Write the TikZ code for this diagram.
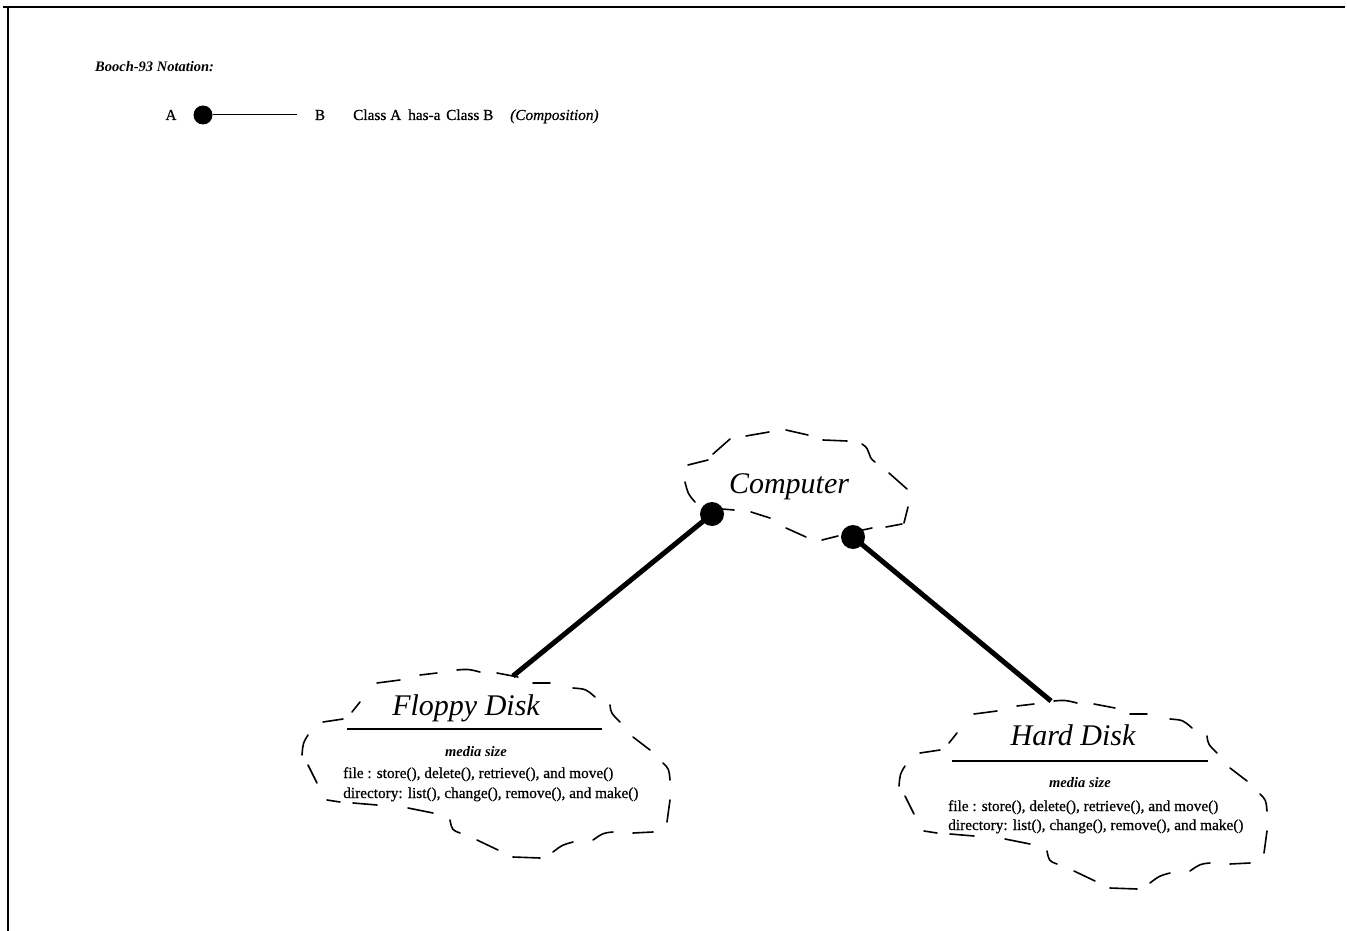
\documentclass[tikz,border=0pt]{standalone}
\usepackage{fontspec}
\setmainfont{Liberation Serif}
\newfontfamily\inkfont{Liberation Serif}[FakeBold=0.6]
\begin{document}
\begin{tikzpicture}[x=1pt,y=-1pt,
  frame/.style={line width=2pt},
  cloudline/.style={line width=1.6pt, line cap=round},
  hasa/.style={line width=5pt},
  bigdot/.style={circle, fill=black, inner sep=0pt, minimum size=24pt},
  smalldot/.style={circle, fill=black, inner sep=0pt, minimum size=19pt},
  classname/.style={font=\fontsize{30}{36}\selectfont\itshape, anchor=base, inner sep=0pt},
  attrib/.style={font=\fontsize{14.5}{17}\selectfont\bfseries\itshape, anchor=base, inner sep=0pt},
  opline/.style={font=\inkfont\fontsize{15.3}{19}\selectfont, anchor=base west, inner sep=0pt},
  legendtxt/.style={font=\inkfont\fontsize{15.3}{17}\selectfont, anchor=base west, inner sep=0pt},
  divider/.style={line width=1.5pt},
  diskcloud/.pic={
    \draw[cloudline]
      (308,735) .. controls (303,743) .. (302,755)
      (323,722) -- (343,719)
      (352,712) -- (360,702)
      (377,683) -- (400,680)
      (420,675) -- (437,673)
      (457,670) .. controls (468,669) .. (480,672)
      (497,673) -- (518,677)
      (533,683) -- (550,683)
      (573,688) .. controls (586,689) .. (595,697)
      (610,705) .. controls (611,713) .. (620,722)
      (633,737) -- (650,750)
      (663,763) .. controls (669,769) .. (670,780)
      (670,800) -- (667,822)
      (653,832) -- (633,833)
      (613,832) .. controls (603,833) .. (593,840)
      (573,842) .. controls (562,845) .. (553,852)
      (540,858) -- (513,857)
      (498,850) -- (477,840)
      (460,833) .. controls (452,830) .. (450,820)
      (433,813) -- (408,808)
      (377,805) -- (353,803)
      (340,802) -- (327,800)
      (317,783) -- (308,765);
  }
]
\useasboundingbox (0,0) rectangle (1347,931);
\fill[white] (0,0) rectangle (1347,931);

% page frame (top and left edges)
\draw[frame] (3,7) -- (1345,7);
\draw[frame] (8,7) -- (8,931);

% legend
\node[font=\fontsize{14.5}{17}\selectfont\bfseries\itshape, anchor=base west, inner sep=0pt]
  (legendhead) at (95,72) {Booch-93 Notation:};
\node[legendtxt, anchor=base] (legA) at (171,120) {A};
\node[smalldot] (legdot) at (203,115) {};
\coordinate (legend) at (297,115);
\draw[line width=1pt] (legdot) -- (legend);
\node[legendtxt, anchor=base] (legB) at (320,120) {B};
\node[legendtxt] (legC1) at (353,120) {Class A};
\node[legendtxt] (legH) at (408,120) {has-a};
\node[legendtxt] (legC2) at (446,120) {Class B};
\node[legendtxt] (legComp) at (510,120) {\itshape (Composition)};

% Computer class cloud
\draw[cloudline]
  (685,482) .. controls (688,494) .. (695,502)
  (688,465) -- (708,460)
  (713,454) -- (730,439)
  (746,436) -- (769,432)
  (786,430) -- (808,435)
  (823,440) -- (847,441)
  (862,444) .. controls (872,450) and (866,456) .. (875,462)
  (889,473) -- (907,489)
  (908,507) -- (904,523)
  (902,524) -- (886,527)
  (872,528) -- (858,531)
  (838,536) -- (822,540)
  (806,537) -- (786,528)
  (770,518) -- (751,512)
  (734,510) -- (722,509);
\node[classname] (computer) at (789,493) {Computer};

% Floppy Disk and Hard Disk class clouds
\pic at (0,0) {diskcloud};
\pic at (597,31) {diskcloud};

\node[classname] (floppy) at (466,715) {Floppy Disk};
\draw[divider] (347,729) -- (602,729);
\node[attrib] (floppyattr) at (476,756) {media size};
\node[opline] (floppyops1) at (343,778) {file : store(), delete(), retrieve(), and move()};
\node[opline] (floppyops2) at (343,798) {directory: list(), change(), remove(), and make()};

\node[classname] (hard) at (1073,745) {Hard Disk};
\draw[divider] (952,761) -- (1208,761);
\node[attrib] (hardattr) at (1080,787) {media size};
\node[opline] (hardops1) at (948,811) {file : store(), delete(), retrieve(), and move()};
\node[opline] (hardops2) at (948,830) {directory: list(), change(), remove(), and make()};

% has-a connectors
\node[bigdot] (dotfloppy) at (712,514) {};
\node[bigdot] (dothard) at (853,537) {};
\coordinate (floppytop) at (513,676);
\coordinate (hardtop) at (1051,701);
\draw[hasa] (dotfloppy.center) -- (floppytop);
\draw[hasa] (dothard.center) -- (hardtop);
\end{tikzpicture}
\end{document}
